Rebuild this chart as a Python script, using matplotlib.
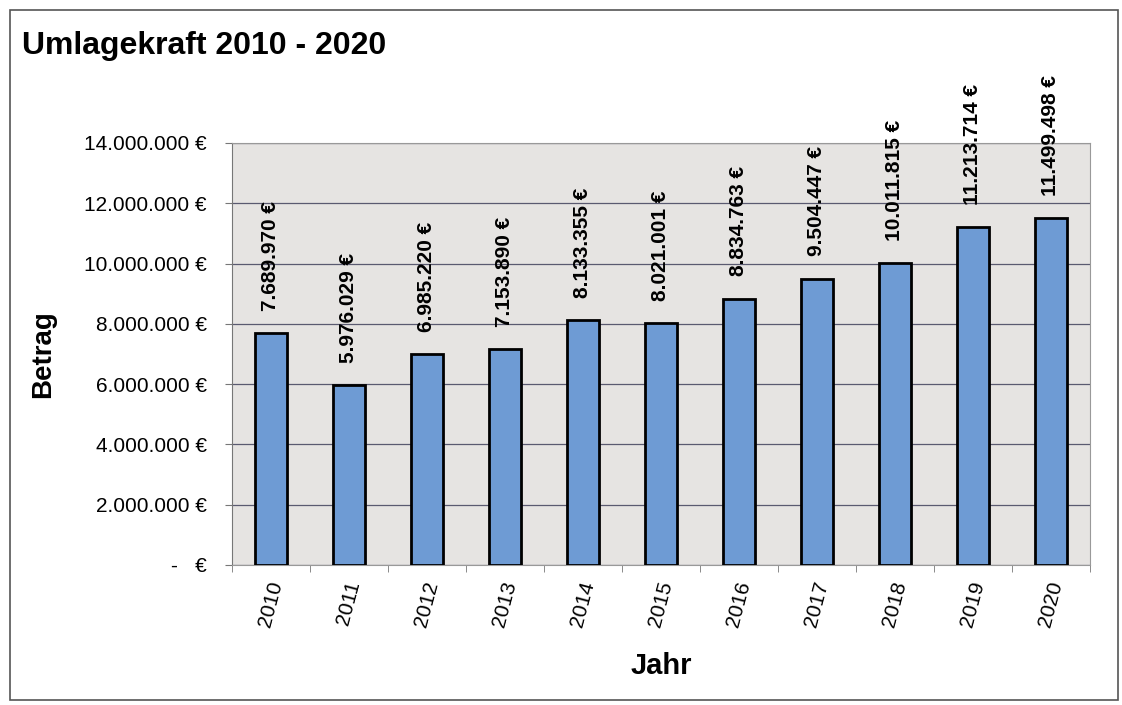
import matplotlib.pyplot as plt
from matplotlib.patches import Rectangle
import numpy as np

# Data
years = ['2010', '2011', '2012', '2013', '2014', '2015', '2016', '2017', '2018', '2019', '2020']
betrag = [7689970, 5976029, 6985220, 7153890, 8133355, 8021001, 8834763, 9504447, 10011815, 11213714, 11499498]
yticks = [0, 2000000, 4000000, 6000000, 8000000, 10000000, 12000000, 14000000]


def euro(v):
    if v == 0:
        return '-   €'
    return f'{v:,.0f} €'.replace(',', '.')


plt.rcParams['font.family'] = ['Liberation Sans', 'DejaVu Sans']

fig = plt.figure(figsize=(11.22, 7.05), dpi=100)
fig.patches.append(Rectangle((10 / 1122, 5 / 705), 1108 / 1122, 690 / 705, transform=fig.transFigure,
                             fill=False, edgecolor='#555555', linewidth=1.2))

ax = fig.add_axes([232 / 1122, 140 / 705, 858 / 1122, 422 / 705])
ax.set_facecolor('#e6e4e2')

x = np.arange(len(years))
ax.bar(x, betrag, width=0.41, color='#6e9bd4', edgecolor='black', linewidth=2, zorder=3)

for xi, v in zip(x, betrag):
    ax.annotate(euro(v), (xi, v), xytext=(0, 16), textcoords='offset points',
                rotation=90, ha='center', va='bottom', fontsize=15, fontweight='bold',
                annotation_clip=False)

ax.set_xlim(-0.5, len(years) - 0.5)
ax.set_ylim(0, 14000000)
ax.set_yticks(yticks)
ax.set_yticklabels([euro(v) for v in yticks], fontsize=15)
ax.set_xticks(x)
ax.set_xticklabels(years, rotation=75, fontsize=15)
ax.set_xticks(np.arange(len(years) + 1) - 0.5, minor=True)
ax.tick_params(axis='x', which='major', length=0, pad=10)
ax.tick_params(axis='x', which='minor', length=5, color='#777777')
ax.tick_params(axis='y', length=5, color='#777777', pad=13)

ax.grid(axis='y', color='#5a5a70', linewidth=0.9, zorder=1)
for s in ['top', 'right', 'left', 'bottom']:
    ax.spines[s].set_color('#999999')
ax.spines['left'].set_color('#777777')

ax.set_ylabel('Betrag', fontsize=20, fontweight='bold')
ax.set_xlabel('Jahr', fontsize=21, fontweight='bold')
ax.yaxis.set_label_coords(-0.205, 0.5)
ax.xaxis.set_label_coords(0.5, -0.206)

fig.text(22 / 1122, 1 - 46 / 705, 'Umlagekraft 2010 - 2020', fontsize=23, fontweight='bold', va='center')

plt.savefig('out.png', dpi=100)
